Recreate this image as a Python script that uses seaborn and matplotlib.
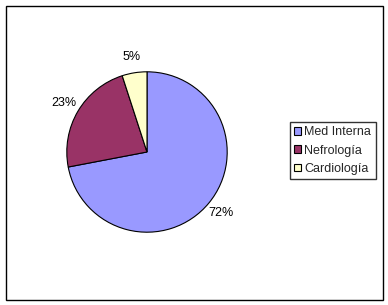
import matplotlib
matplotlib.use("Agg")
import matplotlib.pyplot as plt
import matplotlib.patches as mpatches
import seaborn as sns

categories = ["Med Interna", "Nefrología", "Cardiología"]
values = [72, 23, 5]
colors = ["#9999FF", "#993366", "#FFFFCC"]

sns.set_theme(style="white")
plt.rcParams['font.family'] = ['Liberation Sans', 'DejaVu Sans']

W, H = 388, 305
fig = plt.figure(figsize=(W/100, H/100), dpi=100)
fig.patch.set_facecolor("white")

# outer chart border
fig.patches.append(mpatches.Rectangle((5.5/W, (H-299.5)/H), 377/W, 294/H,
                                      transform=fig.transFigure, fill=False,
                                      edgecolor="black", linewidth=1.0))

cx, cy, r = 147, 152, 81
ax = fig.add_axes([(cx-r)/W, (H-cy-r)/H, 2*r/W, 2*r/H])
wedges, texts, autotexts = ax.pie(values, colors=colors, startangle=90, counterclock=False,
       autopct='%1.0f%%', pctdistance=1.2, radius=1,
       wedgeprops=dict(edgecolor="black", linewidth=0.8),
       textprops=dict(fontsize=9, color="black"))
ax.set_xlim(-1.01, 1.01)
ax.set_ylim(-1.01, 1.01)
ax.axis("off")

handles = [mpatches.Patch(facecolor=c, edgecolor="black", linewidth=0.8, label=l)
           for c, l in zip(colors, categories)]
leg = fig.legend(handles=handles, loc="upper left",
                 bbox_to_anchor=(290/W, (H-122)/H), fontsize=9,
                 frameon=True, fancybox=False, handlelength=0.55, handleheight=0.55,
                 handletextpad=0.25, borderpad=0.35, labelspacing=0.5, borderaxespad=0)
leg.get_frame().set_edgecolor("black")
leg.get_frame().set_linewidth(1.0)

fig.savefig("out.png", dpi=100)
